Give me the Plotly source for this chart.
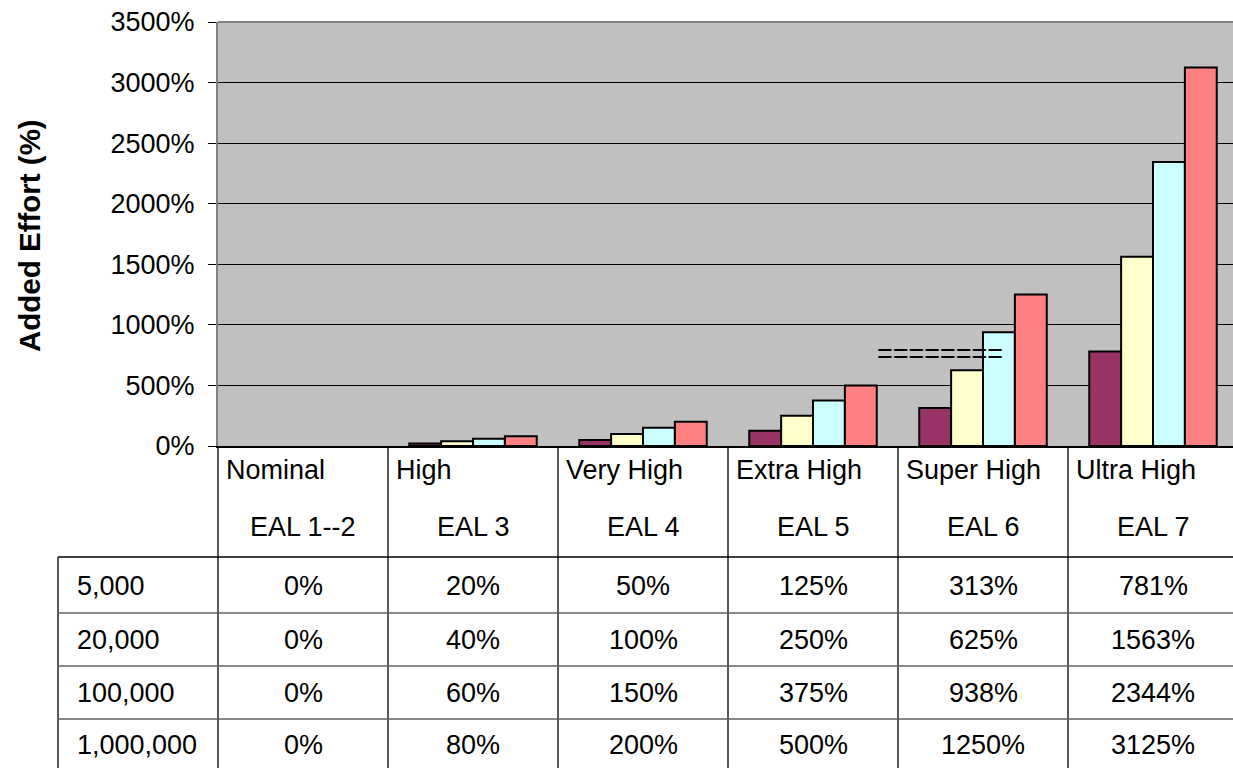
import plotly.graph_objects as go

levels = ["Nominal", "High", "Very High", "Extra High", "Super High", "Ultra High"]
eals = ["EAL 1--2", "EAL 3", "EAL 4", "EAL 5", "EAL 6", "EAL 7"]
series_names = ["5,000", "20,000", "100,000", "1,000,000"]
v_5000 = [0, 20, 50, 125, 313, 781]
v_20000 = [0, 40, 100, 250, 625, 1563]
v_100000 = [0, 60, 150, 375, 938, 2344]
v_1000000 = [0, 80, 200, 500, 1250, 3125]
series_values = [v_5000, v_20000, v_100000, v_1000000]
colors = ["#993366", "#FFFFCC", "#CCFFFF", "#FF8080"]
y_ticks = [0, 500, 1000, 1500, 2000, 2500, 3000, 3500]

W, H = 1233, 768
L, T, B0 = 218, 22, 446  # plot left, top, bottom (pixels)
CW = 170  # category width px
FONT = "Liberation Sans, Arial, sans-serif"
FS = 27

xs = list(range(len(levels)))
fig = go.Figure()
for name, vals, c in zip(series_names, series_values, colors):
    fig.add_trace(go.Bar(x=xs, y=vals, name=name,
                         marker=dict(color=c, line=dict(color="black",
                                                        width=[0 if v == 0 else 2 for v in vals]))))

def py(p):
    return (B0 - p) / (B0 - T)

def px(p):
    return (p - L) / (W - L)

def colx(i):
    return L + i * CW

shapes = []
shapes.append(dict(type="line", xref="paper", yref="paper", x0=0, x1=1, y0=1, y1=1,
                   line=dict(color="#808080", width=2)))
for i in range(len(levels)):
    shapes.append(dict(type="line", xref="paper", yref="paper", x0=px(colx(i)), x1=px(colx(i)),
                       y0=py(B0), y1=py(H + 2), line=dict(color="black", width=1.3)))
shapes.append(dict(type="line", xref="paper", yref="paper", x0=px(58), x1=px(58),
                   y0=py(557), y1=py(H + 2), line=dict(color="black", width=1.3)))
row_lines = [557, 613, 666, 719]
for k, yl in enumerate(row_lines):
    shapes.append(dict(type="line", xref="paper", yref="paper", x0=px(58), x1=px(W + 10),
                       y0=py(yl), y1=py(yl),
                       line=dict(color="black" if k == 0 else "#606060", width=1.3)))

def tfont(size=FS):
    return dict(size=size, color="black", family=FONT)

ann = []
for i, (lv, ea) in enumerate(zip(levels, eals)):
    ann.append(dict(x=px(colx(i) + 6), y=py(470), xref="paper", yref="paper", text=lv, showarrow=False,
                    xanchor="left", yanchor="middle", font=tfont()))
    ann.append(dict(x=px(colx(i) + CW / 2), y=py(527), xref="paper", yref="paper", text=ea, showarrow=False,
                    xanchor="center", yanchor="middle", font=tfont()))
row_centers = [586, 640, 693, 745]
for name, vals, yc in zip(series_names, series_values, row_centers):
    ann.append(dict(x=px(75), y=py(yc), xref="paper", yref="paper", text=name, showarrow=False,
                    xanchor="left", yanchor="middle", font=tfont()))
    for i, v in enumerate(vals):
        ann.append(dict(x=px(colx(i) + CW / 2), y=py(yc), xref="paper", yref="paper", text=f"{v}%",
                        showarrow=False, xanchor="center", yanchor="middle", font=tfont()))
ann.append(dict(x=px(29), y=py(236), xref="paper", yref="paper", text="<b>Added Effort (%)</b>",
                showarrow=False, textangle=-90, xanchor="center", yanchor="middle", font=tfont(29.5)))
ann.append(dict(x=px(940), y=py(354), xref="paper", yref="paper", text="========", showarrow=False,
                xanchor="center", yanchor="middle", font=tfont(27)))

fig.update_layout(
    width=W, height=H,
    margin=dict(l=L, r=0, t=T, b=H - B0, pad=0),
    paper_bgcolor="white", plot_bgcolor="#C0C0C0",
    barmode="group", bargap=0.25, bargroupgap=0,
    showlegend=False,
    shapes=shapes, annotations=ann,
    font=dict(family=FONT, color="black", size=FS),
)
fig.update_xaxes(range=[-0.5, -0.5 + (W - L) / CW], showticklabels=False, ticks="",
                 showgrid=False, zeroline=False, showline=True, linecolor="black", linewidth=2,
                 fixedrange=True)
fig.update_yaxes(range=[0, 3500], tickvals=y_ticks, ticktext=[f"{t}%" for t in y_ticks],
                 ticks="outside", ticklen=8, tickcolor="black", tickwidth=1,
                 ticklabelstandoff=8,
                 showgrid=True, gridcolor="black", gridwidth=1, zeroline=False,
                 showline=True, linecolor="#808080", linewidth=2,
                 tickfont=tfont(), fixedrange=True)

fig.write_html("out.html")
